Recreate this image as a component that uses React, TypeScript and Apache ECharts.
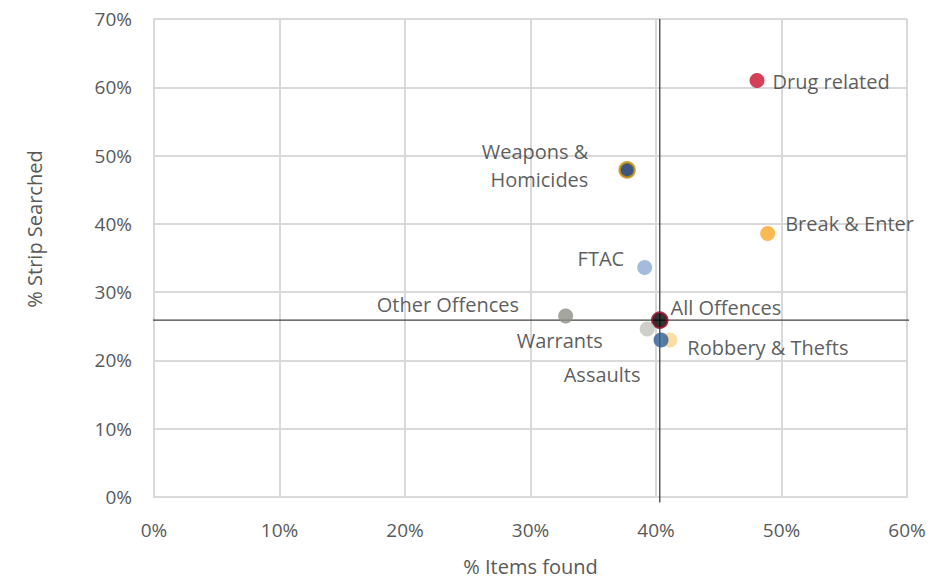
import React, { useEffect, useRef } from "react";
import * as echarts from "echarts";

const names = [
  "Drug related",
  "Weapons &\nHomicides",
  "Break & Enter",
  "FTAC",
  "Other Offences",
  "All Offences",
  "Warrants",
  "Robbery & Thefts",
  "Assaults",
];
const itemsFound = [48.05, 37.7, 48.9, 39.1, 32.8, 40.3, 39.3, 41.1, 40.4];
const stripSearched = [61.0, 47.9, 38.6, 33.6, 26.5, 25.9, 24.6, 23.0, 23.0];
const fills = ["#c8102e", "#0c2a5c", "#f9a825", "#8eaad6", "#8f8f88", "#000000", "#c2c2bd", "#fdd58a", "#2e5f95"];
const borders = ["#c8102e", "#c8900a", "#f9a825", "#8eaad6", "#8f8f88", "#8a0a25", "#c2c2bd", "#fdd58a", "#2e5f95"];
const labelPos = ["right", "left", "right", "left", "left", "right", "left", "right", "left"];
const labelDist = [8, 30, 10, 13, 39, 2, 37, 10, 13];
const labelOffset = [[0, 1], [0, -4], [0, -10], [0, -9], [0, -12], [0, -13], [0, 11], [0, 8], [0, 35]];

const avgX = 40.3;
const avgY = 25.9;
const xTicks = [0, 10, 20, 30, 40, 50, 60];
const yTicks = [0, 10, 20, 30, 40, 50, 60, 70];

export default function App() {
  const ref = useRef<HTMLDivElement>(null);
  useEffect(() => {
    const chart = echarts.init(ref.current!, null, { renderer: "svg" });
    const font = "'Open Sans', 'Noto Sans', sans-serif";
    const points = names.map((n, i) => ({
      name: n,
      value: [itemsFound[i], stripSearched[i]],
      itemStyle: { color: fills[i], borderColor: borders[i], borderWidth: i === 1 || i === 5 ? 2.5 : 0 },
      label: {
        show: true,
        position: labelPos[i],
        distance: labelDist[i],
        offset: labelOffset[i],
        formatter: n,
        color: "#333333",
        fontSize: 20,
        fontFamily: font,
        lineHeight: 28,
      },
    }));
    chart.setOption({
      animation: false,
      grid: { left: 154, right: 44, top: 19, bottom: 78 },
      xAxis: {
        type: "value",
        min: xTicks[0],
        max: xTicks[xTicks.length - 1],
        interval: 10,
        name: "% Items found",
        nameLocation: "middle",
        nameGap: 59,
        nameTextStyle: { color: "#595959", fontSize: 20, fontFamily: font },
        axisLine: { show: true, lineStyle: { color: "#d9d9d9", width: 2 } },
        axisTick: { show: false },
        splitLine: { show: true, lineStyle: { color: "#d9d9d9", width: 2 } },
        axisLabel: { formatter: "{value}%", color: "#595959", fontSize: 19, fontFamily: font, margin: 23 },
      },
      yAxis: {
        type: "value",
        min: yTicks[0],
        max: yTicks[yTicks.length - 1],
        interval: 10,
        name: "% Strip Searched",
        nameLocation: "middle",
        nameGap: 110,
        nameTextStyle: { color: "#595959", fontSize: 20, fontFamily: font, padding: [0, 0, 0, 58] },
        axisLine: { show: true, lineStyle: { color: "#d9d9d9", width: 2 } },
        axisTick: { show: false },
        splitLine: { show: true, lineStyle: { color: "#d9d9d9", width: 2 } },
        axisLabel: { formatter: "{value}%", color: "#595959", fontSize: 19, fontFamily: font, margin: 22 },
      },
      series: [
        {
          type: "line",
          data: [[avgX, -0.8], [avgX, 70]],
          clip: false,
          symbol: "none",
          silent: true,
          lineStyle: { color: "#404040", width: 1.3 },
          z: 1,
        },
        {
          type: "line",
          data: [[-0.5, avgY], [60.9, avgY]],
          clip: false,
          symbol: "none",
          silent: true,
          lineStyle: { color: "#404040", width: 1.3 },
          z: 1,
        },
        {
          type: "scatter",
          symbolSize: 15,
          data: points,
          z: 3,
        },
      ],
    });
    return () => chart.dispose();
  }, []);
  return <div ref={ref} style={{ width: 951, height: 581, position: "absolute", left: 0, top: 0 }} />;
}
